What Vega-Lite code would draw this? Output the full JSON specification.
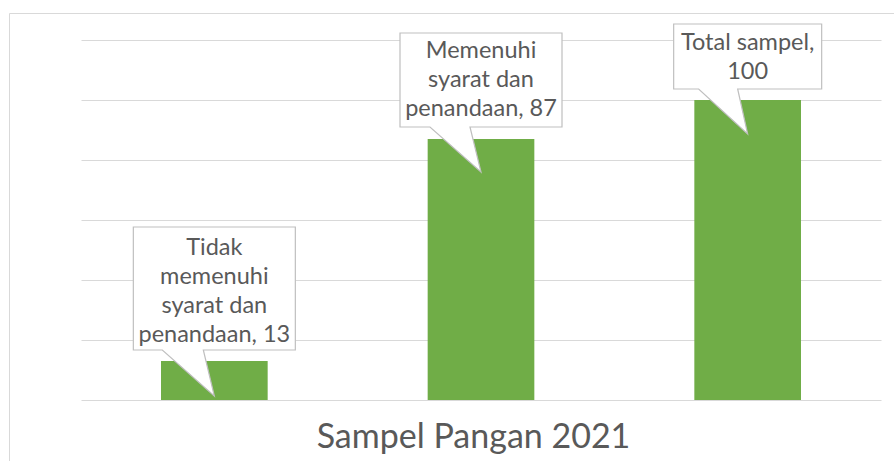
{
  "$schema": "https://vega.github.io/schema/vega-lite/v6.json",
  "width": 900,
  "height": 456,
  "padding": {"left": 9, "top": 13, "right": 0, "bottom": 0},
  "autosize": {"type": "pad"},
  "background": "white",
  "config": {"view": {"stroke": "#d9d9d9", "strokeWidth": 1}, "font": "Lato"},
  "data": {
    "values": [
      {"kategori": "Tidak memenuhi syarat dan penandaan", "nilai": 13, "label": "Tidak\nmemenuhi\nsyarat dan\npenandaan, 13"},
      {"kategori": "Memenuhi syarat dan penandaan", "nilai": 87, "label": "Memenuhi\nsyarat dan\npenandaan, 87"},
      {"kategori": "Total sampel", "nilai": 100, "label": "Total sampel,\n100"}
    ]
  },
  "encoding": {
    "x": {
      "field": "kategori",
      "type": "nominal",
      "sort": null,
      "scale": {"range": [72, 872], "paddingInner": 0.6, "paddingOuter": 0.3},
      "axis": {
        "labels": false,
        "ticks": false,
        "domain": false,
        "title": "Sampel Pangan 2021",
        "titleFontSize": 34,
        "titleFont": "Lato",
        "titleFontWeight": "normal",
        "titleColor": "#595959",
        "titleY": -22,
        "titleX": 464,
        "titleBaseline": "alphabetic",
        "titleAlign": "center"
      }
    },
    "y": {
      "field": "nilai",
      "type": "quantitative",
      "scale": {"domain": [-23, 129], "nice": false, "zero": false},
      "axis": {
        "values": [0, 20, 40, 60, 80, 100, 120],
        "labels": false,
        "ticks": false,
        "domain": false,
        "title": null,
        "grid": true,
        "gridColor": "#d9d9d9",
        "gridWidth": 1
      }
    }
  },
  "layer": [
    {"mark": {"type": "bar", "color": "#70ad47"}},
    {
      "mark": {"type": "point", "filled": true, "fill": "white", "stroke": "#bfbfbf", "strokeWidth": 1.2, "size": 4, "opacity": 1, "fillOpacity": 1, "strokeOpacity": 1},
      "encoding": {
        "shape": {
          "field": "kategori",
          "type": "nominal",
          "sort": null,
          "legend": null,
          "scale": {
            "domain": ["Tidak memenuhi syarat dan penandaan", "Memenuhi syarat dan penandaan", "Total sampel"],
            "range": [
              "M-81,-134L81,-134L81,-11L-11,-11L0,35L-52,-11L-81,-11Z",
              "M-81,-106L81,-106L81,-12L-11,-12L0,33L-51,-12L-81,-12Z",
              "M-74,-76L74,-76L74,-11L-10,-11L0,34L-49,-11L-74,-11Z"
            ]
          }
        }
      }
    },
    {
      "transform": [{"filter": "datum.kategori === 'Tidak memenuhi syarat dan penandaan'"}],
      "mark": {"type": "text", "lineBreak": "\n", "lineHeight": 29, "fontSize": 23.5, "color": "#595959", "dy": -106, "baseline": "alphabetic", "align": "center", "font": "Lato"},
      "encoding": {"text": {"field": "label", "type": "nominal"}}
    },
    {
      "transform": [{"filter": "datum.kategori === 'Memenuhi syarat dan penandaan'"}],
      "mark": {"type": "text", "lineBreak": "\n", "lineHeight": 29, "fontSize": 23.5, "color": "#595959", "dy": -81, "baseline": "alphabetic", "align": "center", "font": "Lato"},
      "encoding": {"text": {"field": "label", "type": "nominal"}}
    },
    {
      "transform": [{"filter": "datum.kategori === 'Total sampel'"}],
      "mark": {"type": "text", "lineBreak": "\n", "lineHeight": 29, "fontSize": 23.5, "color": "#595959", "dy": -50, "baseline": "alphabetic", "align": "center", "font": "Lato"},
      "encoding": {"text": {"field": "label", "type": "nominal"}}
    }
  ]
}
